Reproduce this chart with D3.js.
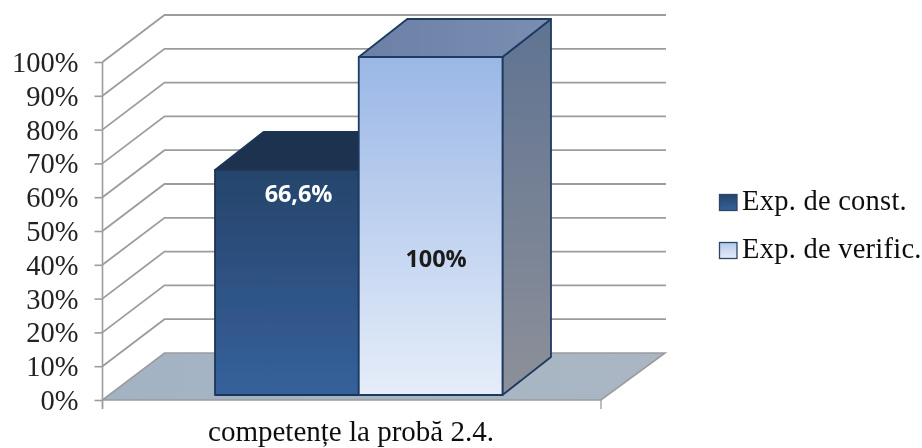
<!DOCTYPE html>
<html><head><meta charset="utf-8">
<script src="https://cdn.jsdelivr.net/npm/d3@7/dist/d3.min.js"></script>
<style>html,body{margin:0;padding:0;background:#fff}svg{display:block}</style>
</head><body><svg id="c" width="922" height="448"></svg>
<script>
const categoryName = "competențe la probă 2.4.";
const seriesNames = ["Exp. de const.", "Exp. de verific."];
const seriesValues = [66.6, 100];
const valueLabels = ["66,6%", "100%"];
const tickValues = [0,10,20,30,40,50,60,70,80,90,100];

const svg = d3.select("#c");
const defs = svg.append("defs");
const grad=(id,stops,x2=0,y2=1)=>{const g=defs.append("linearGradient").attr("id",id).attr("x1",0).attr("y1",0).attr("x2",x2).attr("y2",y2);
  stops.forEach((c,i)=>g.append("stop").attr("offset",i/(stops.length-1)).attr("stop-color",c));};
grad("f0",["#26446b","#35619b"]);
grad("f1",["#9ab7e6","#e6edf9"]);
grad("s0",["#1c3150","#1c3150"]);
grad("s1",["#5f7392","#8d9099"]);
grad("t1",["#6c80a6","#7a8eb2"],1,0);
grad("floor",["#a3b3c4","#aab6c3"],1,0);
grad("l0",["#26446b","#35619b"]);
grad("l1",["#b4c8ea","#e6edf9"]);
const bl=defs.append("filter").attr("id","soft").attr("x","-5%").attr("y","-5%").attr("width","110%").attr("height","110%");
bl.append("feGaussianBlur").attr("stdDeviation",0.55);
const root=svg.append("g").attr("filter","url(#soft)");

const axisX=102.5, frontRight=601, wallDx=62, wallDy=-47;
const y=d3.scaleLinear().domain([0,100]).range([400,62]);
const xBand=d3.scaleBand().domain(seriesNames).range([215,502.5]);
const barBase=-5, barDx=48.5, barDy=-38;
const line=d3.line();
const gridColor="#9c9c9c";

// floor
root.append("path").attr("d",line([[axisX,y(0)],[axisX+wallDx,y(0)+wallDy],[frontRight+wallDx+2,y(0)+wallDy],[frontRight,y(0)]])+"Z")
  .attr("fill","url(#floor)");
// gridlines
const gridG=root.append("g");
tickValues.forEach(t=>{
  gridG.append("path").attr("fill","none").attr("stroke",gridColor).attr("stroke-width",t===0?1.6:1.8)
   .attr("d",t===0?line([[axisX,y(0)],[axisX+wallDx,y(0)+wallDy],[frontRight+wallDx+2,y(0)+wallDy],[frontRight,y(0)],[axisX,y(0)]])
      :line([[axisX,y(t)],[axisX+wallDx,y(t)+wallDy],[frontRight+wallDx+3,y(t)+wallDy]]));
});
// axis
const axisG=root.append("g").attr("transform",`translate(${axisX},0)`)
  .call(d3.axisLeft(y).tickValues(tickValues).tickSize(8).tickPadding(16).tickFormat(d=>d+"%"));
axisG.selectAll("path,line").attr("stroke",gridColor).attr("stroke-width",1.6);
axisG.select("path").attr("d",`M0,${y(100)}V${y(0)+9}`);
axisG.selectAll("text").attr("font-family","'Liberation Serif'").attr("font-size",28.5).attr("fill","#222").attr("dy","0.33em").attr("x",-24);
// category axis ends
const xa=d3.scalePoint().domain(["a","b"]).range([axisX,frontRight]);
root.selectAll(".xt").data(xa.domain()).enter().append("line").attr("x1",d=>xa(d)).attr("x2",d=>xa(d)).attr("y1",y(0)).attr("y2",y(0)+9).attr("stroke",gridColor).attr("stroke-width",1.3);

// bars
seriesNames.forEach((s,i)=>{
  const x0=xBand(s), x1=x0+xBand.bandwidth(), b=y(0)+barBase, t=y(seriesValues[i])+barBase;
  const g=root.append("g").attr("stroke",i?"#1f3a60":"#1f3555").attr("stroke-width",1.8).attr("stroke-linejoin","round");
  g.append("path").attr("d",line([[x1,t],[x1+barDx,t+barDy],[x1+barDx,b+barDy],[x1,b]])+"Z").attr("fill",`url(#s${i})`);
  g.append("path").attr("d",line([[x0,t],[x0+barDx,t+barDy],[x1+barDx,t+barDy],[x1,t]])+"Z").attr("fill",i?"url(#t1)":"#1c3150");
  g.append("rect").attr("x",x0).attr("y",t).attr("width",x1-x0).attr("height",b-t).attr("fill",`url(#f${i})`);
  root.append("text").attr("x",i?436:298.5).attr("y",i?259:194).attr("dy","0.36em").attr("text-anchor","middle")
    .attr("font-family","'Open Sans'").attr("font-weight",700).attr("font-size",23.5)
    .attr("letter-spacing",-0.1)
    .attr("fill",i?"#1a1a1a":"#fff").text(valueLabels[i]);
});
// category label
root.append("text").attr("x",351).attr("y",441).attr("text-anchor","middle").attr("font-family","'Liberation Serif'").attr("font-size",29).attr("fill","#111").text(categoryName);
// legend
const ly=d3.scalePoint().domain(seriesNames).range([210,258]);
seriesNames.forEach((s,i)=>{
  root.append("rect").attr("x",719.5).attr("y",ly(s)-15.5).attr("width",17.5).attr("height",16).attr("fill",`url(#l${i})`).attr("stroke","#2a4669").attr("stroke-width",1.3);
  root.append("text").attr("x",742).attr("y",ly(s)).attr("font-family","'Liberation Serif'").attr("font-size",28.5).attr("letter-spacing",0.25).attr("fill","#111").text(s);
});
</script></body></html>
